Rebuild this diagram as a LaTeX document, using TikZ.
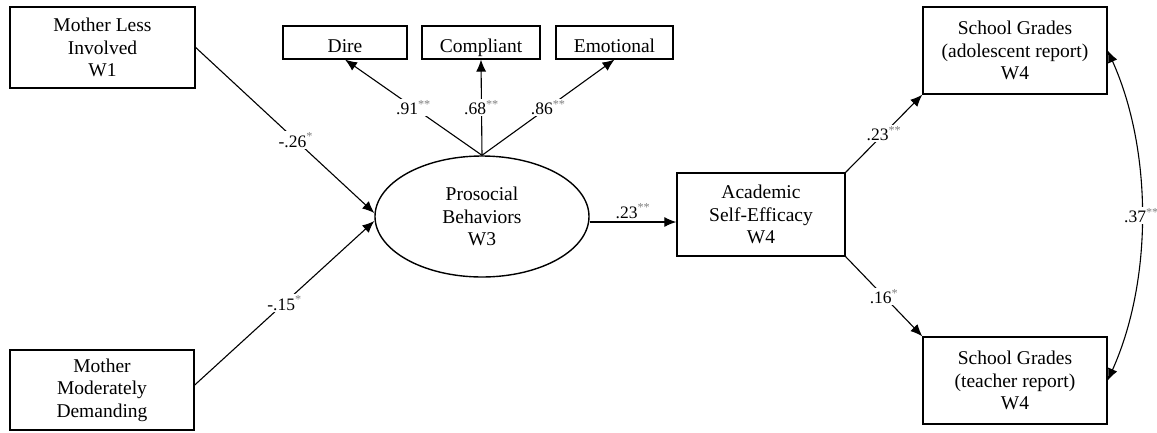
\documentclass[tikz,border=0pt]{standalone}
\usepackage{fontspec}
\setmainfont{Liberation Serif}
\usetikzlibrary{arrows.meta,shapes.geometric}
\begin{document}
\begin{tikzpicture}[x=1pt,y=-1pt,
  box/.style={draw,line width=1.4pt,align=center,inner sep=0pt,font=\fontsize{19.5}{22.5}\selectfont},
  smallbox/.style={draw,line width=1.1pt,inner sep=0pt,font=\fontsize{19.5}{22}\selectfont,minimum height=33pt,text height=19pt,text depth=0pt},
  arr/.style={line width=1.1pt,-{Latex[length=12pt,width=10pt]}},
  lab/.style={fill=white,inner sep=1.5pt,font=\fontsize{17.5}{20}\selectfont},
  every node/.append style={text=black}]
\useasboundingbox (0,0) rectangle (1157,432);
\newcommand{\sg}{\textsuperscript{\color{gray}*}}
\newcommand{\dsg}{\textsuperscript{\color{gray}**}}
% nodes
\node[box,minimum width=185pt,minimum height=81pt] (mli) at (102.5,47.5) {Mother Less\\Involved\\W1};
\node[box,minimum width=184pt,minimum height=80pt] (mmd) at (102,390) {Mother\\Moderately\\Demanding};
\node[draw,ellipse,line width=1.4pt,minimum width=214pt,minimum height=121pt,inner sep=0pt,align=center,font=\fontsize{19.5}{22.5}\selectfont] (pb) at (482,216.5) {Prosocial\\Behaviors\\W3};
\node[smallbox,minimum width=124pt] (dire) at (345,42.5) {Dire};
\node[smallbox,minimum width=118pt] (comp) at (481,42.5) {Compliant};
\node[smallbox,minimum width=117pt] (emo) at (614.5,42.5) {Emotional};
\node[box,minimum width=168pt,minimum height=83pt] (ase) at (761,214.5) {Academic\\Self-Efficacy\\W4};
\node[box,minimum width=184pt,minimum height=87pt] (sga) at (1015,50.5) {School Grades\\(adolescent report)\\W4};
\node[box,minimum width=184pt,minimum height=87pt] (sgt) at (1015,380.5) {School Grades\\(teacher report)\\W4};
% connectors
\draw[arr] (mli.east) -- node[lab,pos=0.56] {-.26\sg} ([yshift=3.5pt]pb.west);
\draw[arr] ([yshift=5pt]mmd.east) -- node[lab,pos=0.5] {-.15\sg} ([yshift=-4.5pt]pb.west);
\draw[arr] (pb.north) -- node[lab,pos=0.5] {.91\dsg} (dire.south);
\draw[arr] (pb.north) -- node[lab,pos=0.5] {.68\dsg} (comp.south);
\draw[arr] (pb.north) -- node[lab,pos=0.5] {.86\dsg} (emo.south);
\draw[arr] ([yshift=-5.5pt]pb.east) -- node[above,font=\fontsize{17.5}{20}\selectfont,inner sep=3pt] {.23\dsg} ([yshift=-5.5pt]pb.east -| ase.west);
\draw[arr] (ase.north east) -- node[lab,pos=0.5] {.23\dsg} (sga.south west);
\draw[arr] (ase.south east) -- node[lab,pos=0.5] {.16\sg} (sgt.north west);
\draw[line width=1.1pt,{Latex[length=12pt,width=10pt]}-{Latex[length=12pt,width=10pt]}] (sga.east) .. controls ([xshift=45pt,yshift=-100pt]sga.east) and ([xshift=45pt,yshift=100pt]sgt.east) .. node[lab,pos=0.5] {.37\dsg} (sgt.east);
\end{tikzpicture}
\end{document}
